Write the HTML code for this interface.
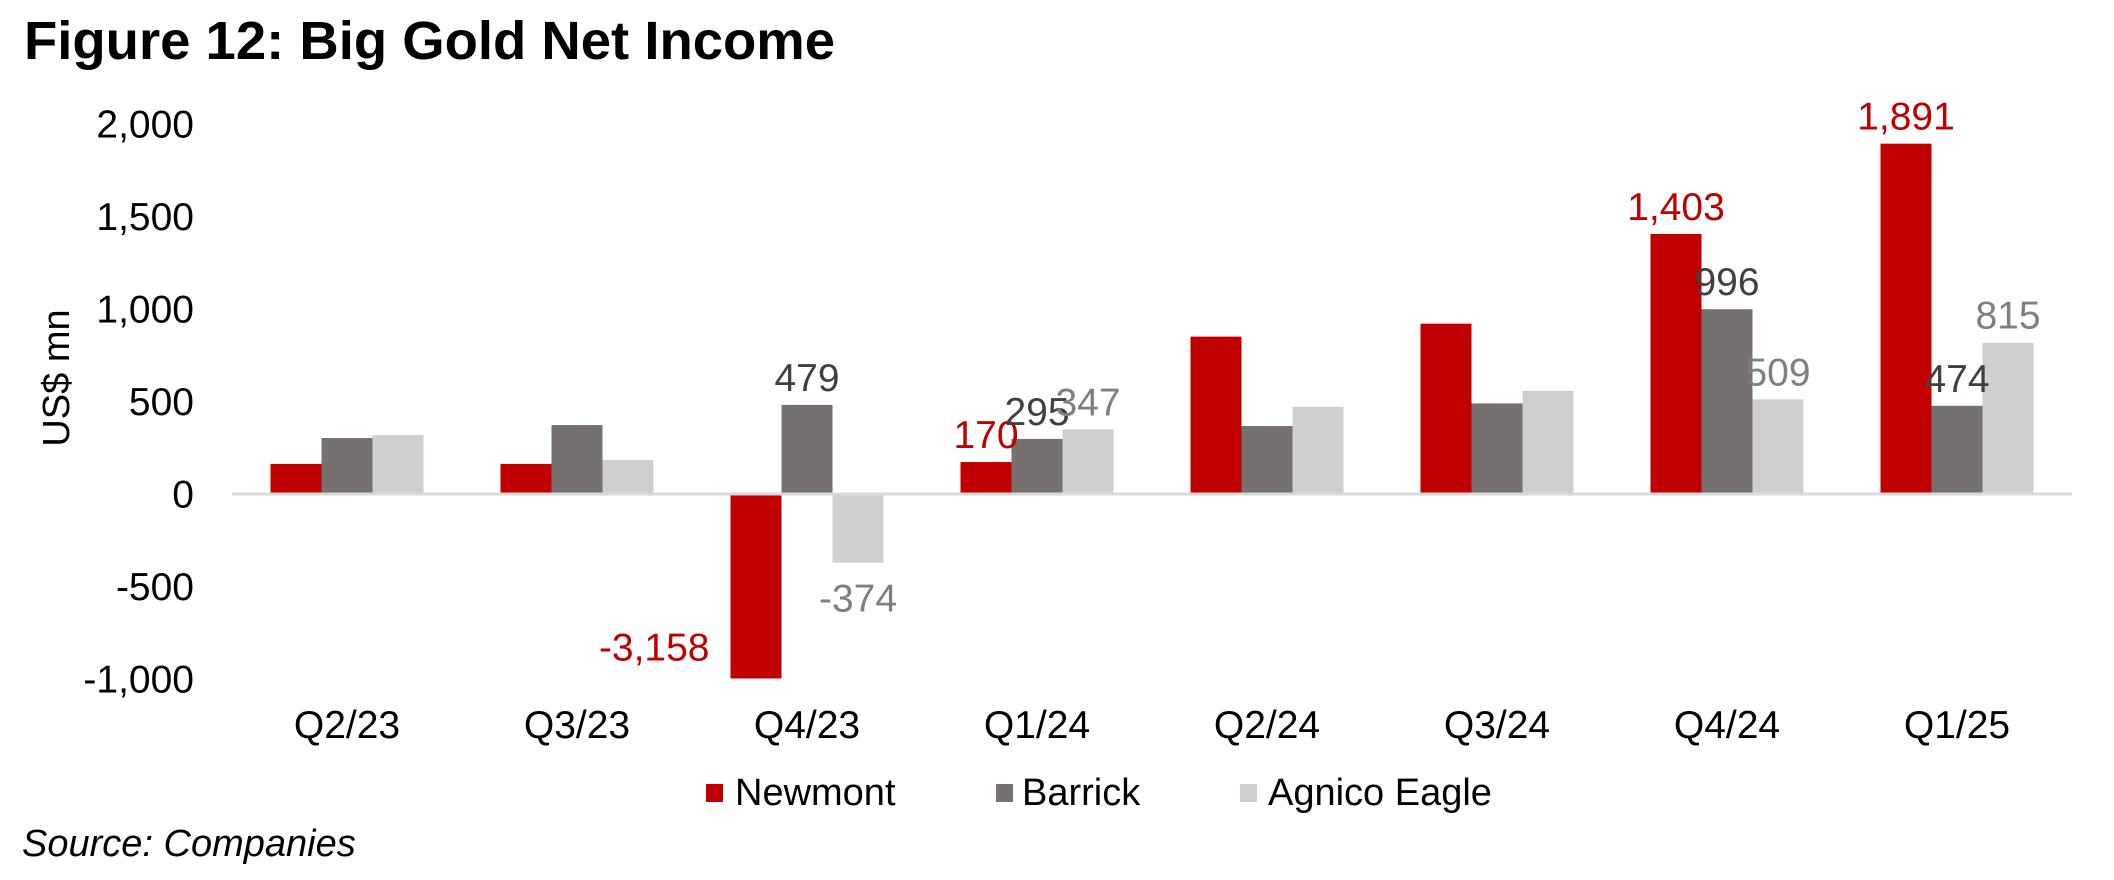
<!DOCTYPE html>
<html><head><meta charset="utf-8"><style>
html,body{margin:0;padding:0;background:#fff}
svg{display:block;font-family:"Liberation Sans",Arial,sans-serif}
</style></head><body>
<svg id="chart" width="2114" height="880" viewBox="0 0 2114 880">
<text x="24" y="59" font-size="54" font-weight="bold" textLength="811" lengthAdjust="spacingAndGlyphs">Figure 12: Big Gold Net Income</text>
<g id="yaxis"></g>
<text transform="translate(69,378) rotate(-90)" text-anchor="middle" font-size="38">US$ mn</text>
<g id="bars"></g>
<line x1="232" x2="2072" y1="494" y2="494" stroke="#d9d9d9" stroke-width="3"/>
<g id="labels"></g>
<g id="xaxis"></g>
<g>
 <g><rect x="706" y="784" width="17" height="18" fill="#c00000"/><text x="735" y="805" font-size="38">Newmont</text></g>
 <g><rect x="996" y="784" width="17" height="18" fill="#767171"/><text x="1022" y="805" font-size="38">Barrick</text></g>
 <g><rect x="1240" y="784" width="17" height="18" fill="#d0cece"/><text x="1268" y="805" font-size="38">Agnico Eagle</text></g>
</g>
<text x="22" y="856" font-size="38" font-style="italic">Source: Companies</text>
</svg>
<script>
const categories = ["Q2/23","Q3/23","Q4/23","Q1/24","Q2/24","Q3/24","Q4/24","Q1/25"];
const newmont = [160,160,-3158,170,848,918,1403,1891];
const barrick = [300,370,479,295,365,487,996,474];
const agnico = [316,181,-374,347,469,554,509,815];
const labelNewmont = [null,null,"-3,158","170",null,null,"1,403","1,891"];
const labelBarrick = [null,null,"479","295",null,null,"996","474"];
const labelAgnico = [null,null,"-374","347",null,null,"509","815"];
const yTicks = [2000,1500,1000,500,0,-500,-1000];
const yTickLabels = ["2,000","1,500","1,000","500","0","-500","-1,000"];

const NS="http://www.w3.org/2000/svg";
const yMin=-1000,yMax=2000,plotTop=123.5,plotBot=678.5;
const plotL=232,plotR=2072;
function y(v){v=Math.max(yMin,Math.min(yMax,v));return plotBot-(v-yMin)/(yMax-yMin)*(plotBot-plotTop);}
const bandW=(plotR-plotL)/categories.length;
function xc(i){return plotL+bandW*(i+0.5);}
const barW=51;
function mk(tag,attrs,parent){const e=document.createElementNS(NS,tag);for(const k in attrs)e.setAttribute(k,attrs[k]);parent.appendChild(e);return e;}

const yg=document.getElementById('yaxis');
yTicks.forEach((t,i)=>{
  const e=mk('text',{x:194,y:y(t)+14,'text-anchor':'end','font-size':39},yg);
  e.textContent=yTickLabels[i];
  
  
});
const xg=document.getElementById('xaxis');
categories.forEach((c,i)=>{
  const e=mk('text',{x:xc(i),y:738,'text-anchor':'middle','font-size':39},xg);
  e.textContent=c;
  
  
});
const series=[{v:newmont,l:labelNewmont,c:"#c00000",lc:"#c00000",n:"newmont"},
              {v:barrick,l:labelBarrick,c:"#767171",lc:"#404040",n:"barrick"},
              {v:agnico,l:labelAgnico,c:"#d0cece",lc:"#7f7f7f",n:"agnico"}];
const bg=document.getElementById('bars'),lg=document.getElementById('labels');
categories.forEach((c,i)=>{
  series.forEach((s,j)=>{
    const x=xc(i)-1.5*barW+j*barW;
    const v=s.v[i],y0=y(0),y1=y(v);
    const r=mk('rect',{x:x,y:Math.min(y0,y1),width:barW,height:Math.abs(y1-y0),fill:s.c},bg);
    
    
    const lab=s.l[i];
    if(lab){
      let tx=x+barW/2,ty,anchor='middle';
      if(v<yMin){tx=x-21;ty=y1-18;anchor='end';}
      else if(v<0){ty=y1+49;}
      else{ty=y1-14;}
      const t=mk('text',{x:tx,y:ty,'text-anchor':anchor,'font-size':39,fill:s.lc},lg);
      t.textContent=lab;
      
      
    }
  });
});
</script>
</body></html>
